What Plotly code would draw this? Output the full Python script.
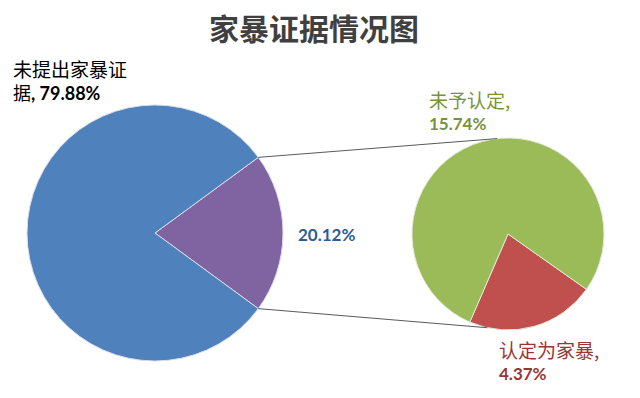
import math
import plotly.graph_objects as go

# ---- data ----
main_labels = ["家暴证据", "未提出家暴证据"]
main_values = [20.12, 79.88]
sub_labels = ["认定为家暴", "未予认定"]
sub_values = [4.37, 15.74]
title_text = "家暴证据情况图"

# ---- style / geometry ----
W, H = 640, 398
L_C = (155, 233); L_R = 128
R_C = (508, 234); R_R = 96
main_colors = ["#8064A2", "#4F81BD"]
sub_colors = ["#C0504D", "#9BBB59"]

def dom(c, r):
    return dict(x=[(c[0] - r) / W, (c[0] + r) / W],
                y=[1 - (c[1] + r) / H, 1 - (c[1] - r) / H])

half_angle = main_values[0] / sum(main_values) * 360 / 2
rot_main = 90 - half_angle

fig = go.Figure()
fig.add_trace(go.Pie(labels=main_labels, values=main_values, sort=False,
                     direction="clockwise", rotation=rot_main,
                     marker=dict(colors=main_colors, line=dict(color="#D9DDE8", width=1)),
                     textinfo="none", hoverinfo="label+value", domain=dom(L_C, L_R),
                     showlegend=False))
fig.add_trace(go.Pie(labels=sub_labels, values=sub_values, sort=False,
                     direction="clockwise", rotation=125.2,
                     marker=dict(colors=sub_colors, line=dict(color="#E3E8D8", width=1)),
                     textinfo="none", hoverinfo="label+value", domain=dom(R_C, R_R),
                     showlegend=False))

def pt(c, r, ang_from_north):
    a = math.radians(ang_from_north)
    return (c[0] + r * math.sin(a), c[1] - r * math.cos(a))

p1 = pt(L_C, L_R, 90 - half_angle)
p2 = pt(L_C, L_R, 90 + half_angle)
q1 = pt(R_C, R_R, -6.5)
q2 = pt(R_C, R_R, 192.5)
for a, b in [(p1, q1), (p2, q2)]:
    fig.add_shape(type="line", xref="paper", yref="paper",
                  x0=a[0] / W, y0=1 - a[1] / H, x1=b[0] / W, y1=1 - b[1] / H,
                  line=dict(color="#5A5A5A", width=1))

NUM = "Lato, Noto Sans CJK SC"

def cjk(s, size=19):
    return ("<span style='font-size:%dpx;font-family:Noto Sans CJK SC'>" % size) + s + "</span>"

def ann(x, y, text, color, size=17):
    fig.add_annotation(x=x / W, y=1 - y / H, xref="paper", yref="paper",
                       text=text, showarrow=False, xanchor="left", yanchor="middle",
                       align="left", font=dict(family=NUM, size=size, color=color))

ann(11, 80, cjk(main_labels[1][:6]) + "<br>" + cjk(main_labels[1][6:], 18) +
    "<b>, %.2f%%</b>" % main_values[1], "#000000", 18)
ann(296, 235, "<b>%.2f%%</b>" % main_values[0], "#2F5B93")
ann(427, 110, cjk(sub_labels[1] + ",") + "<br><b>%.2f%%</b>" % sub_values[1], "#77933C")
ann(497, 360, cjk(sub_labels[0] + ",") + "<br><b>%.2f%%</b>" % sub_values[0], "#953735")

fig.add_annotation(x=0.5 - 6 / W, y=1 - 27 / H, xref="paper", yref="paper",
                   text="<b>" + title_text + "</b>",
                   showarrow=False, xanchor="center", yanchor="middle",
                   font=dict(family="Noto Sans CJK SC", size=30, color="#404040"))

fig.update_layout(width=W, height=H, margin=dict(l=0, r=0, t=0, b=0),
                  paper_bgcolor="white", plot_bgcolor="white")
fig.write_html("out.html", config={"displayModeBar": False},
               post_script="document.body.style.margin='0';document.body.style.padding='0';")
